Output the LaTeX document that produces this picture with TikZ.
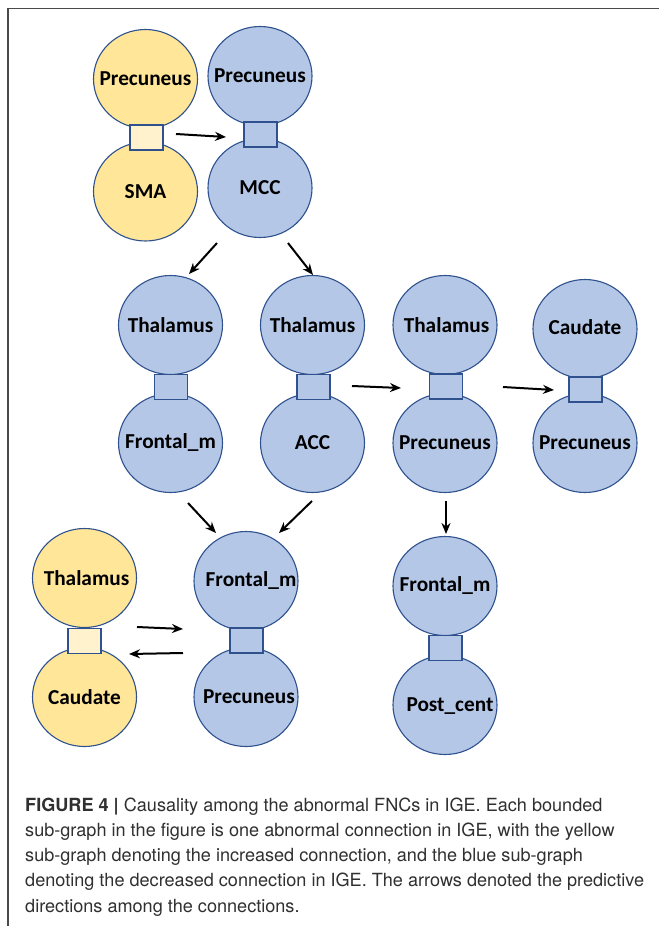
\documentclass[tikz,border=0pt]{standalone}
\usepackage{fontspec}
\setmainfont{TeX Gyre Heros}
\newfontfamily\lblfamily{Carlito}
\usetikzlibrary{shapes.geometric,arrows.meta}
\definecolor{edgec}{HTML}{2F528F}
\definecolor{bluef}{HTML}{B4C7E7}
\definecolor{yellowf}{HTML}{FFE699}
\definecolor{yellowsq}{HTML}{FFF2CC}
\definecolor{capc}{HTML}{303030}
\definecolor{framec}{HTML}{4A4A4A}
\tikzset{
  lbl/.style={inner sep=0pt, text=black,
    font=\lblfamily\bfseries\fontsize{21.3}{23}\selectfont},
  circB/.style={ellipse, draw=edgec, line width=1.1pt, fill=bluef,
    minimum width=104pt, minimum height=99pt, inner sep=0pt},
  circY/.style={circB, fill=yellowf},
  sqB/.style={rectangle, draw=edgec, line width=1.1pt, fill=bluef,
    minimum width=33pt, minimum height=25pt, inner sep=0pt},
  sqY/.style={sqB, fill=yellowsq},
  arr/.style={-{Stealth[length=11pt,width=9pt]}, line width=2pt, black},
  captxt/.style={anchor=base west, inner sep=0pt, text=capc,
    font=\fontsize{18.1}{20}\selectfont},
}
\begin{document}
\begin{tikzpicture}[x=1pt,y=-1pt]
\useasboundingbox (0,0) rectangle (659,926);
\fill[white] (0,0) rectangle (659,926);
\draw[framec, line width=1.5pt] (8,926) -- (8,8.5) -- (659,8.5);

% group 1 (yellow)
\node[circY, label={[lbl]center:Precuneus}] (g1t) at (145.5,79) {};
\node[circY, label={[lbl]center:SMA}] (g1b) at (145.5,191.5) {};
\node[sqY] (g1s) at (146.5,137.5) {};
% group 2
\node[circB, label={[lbl]center:Precuneus}] (g2t) at (260,76) {};
\node[circB, label={[lbl]center:MCC}] (g2b) at (260,188) {};
\node[sqB] (g2s) at (260.5,134.5) {};
% group 3
\node[circB, label={[lbl]center:Thalamus}] (g3t) at (170.5,325) {};
\node[circB, label={[lbl]center:Frontal\_m}] (g3b) at (170.5,443) {};
\node[sqB] (g3s) at (171,387) {};
% group 4
\node[circB, label={[lbl]center:Thalamus}] (g4t) at (312.5,325) {};
\node[circB, label={[lbl]center:ACC}] (g4b) at (312.5,443) {};
\node[sqB] (g4s) at (313.5,387) {};
% group 5
\node[circB, label={[lbl,xshift=1.5pt]center:Thalamus}] (g5t) at (445,325) {};
\node[circB, label={[lbl]center:Precuneus}] (g5b) at (445,443) {};
\node[sqB] (g5s) at (446,386.5) {};
% group 6
\node[circB, label={[lbl,yshift=2pt]center:Caudate}] (g6t) at (585,329) {};
\node[circB, label={[lbl]center:Precuneus}] (g6b) at (585,443) {};
\node[sqB] (g6s) at (585.5,389.5) {};
% group 7 (yellow)
\node[circY, label={[lbl,xshift=2pt]center:Thalamus}] (g7t) at (84.5,578) {};
\node[circY, label={[lbl]center:Caudate}] (g7b) at (84.5,697) {};
\node[sqY] (g7s) at (84.5,641) {};
% group 8
\node[circB, label={[lbl,xshift=5pt]center:Frontal\_m}] (g8t) at (246,581) {};
\node[circB, label={[lbl,xshift=3pt]center:Precuneus}] (g8b) at (246,697) {};
\node[sqB] (g8s) at (246.5,640.5) {};
% group 9
\node[circB, label={[lbl]center:Frontal\_m}] (g9t) at (445,586) {};
\node[circB, label={[lbl,xshift=5pt,yshift=-1pt]center:Post\_cent}] (g9b) at (445,705) {};
\node[sqB] (g9s) at (445.5,648) {};

% arrows
\coordinate (a1s) at (176,134);  \coordinate (a1e) at (226,137);
\coordinate (a2s) at (217,243);  \coordinate (a2e) at (189,274);
\coordinate (a3s) at (288,243);  \coordinate (a3e) at (313,275);
\coordinate (a4s) at (352,386);  \coordinate (a4e) at (401,388);
\coordinate (a5s) at (503,387);  \coordinate (a5e) at (554,390);
\coordinate (a6s) at (446,501);  \coordinate (a6e) at (446,534);
\coordinate (a7s) at (188,503);  \coordinate (a7e) at (216,533);
\coordinate (a8s) at (312,501);  \coordinate (a8e) at (279,533);
\coordinate (a9s) at (137,627);  \coordinate (a9e) at (183,629);
\coordinate (a10s) at (183,653); \coordinate (a10e) at (129,654);
\foreach \i in {1,...,10} \draw[arr] (a\i s) -- (a\i e);

% caption
\node[captxt] (cap1) at (25,811) {\textbf{FIGURE 4 |} Causality among the abnormal FNCs in IGE. Each bounded};
\node[captxt] (cap2) at (25,836.3) {sub-graph in the figure is one abnormal connection in IGE, with the yellow};
\node[captxt] (cap3) at (25,861.6) {sub-graph denoting the increased connection, and the blue sub-graph};
\node[captxt] (cap4) at (25,886.9) {denoting the decreased connection in IGE. The arrows denoted the predictive};
\node[captxt] (cap5) at (25,912.2) {directions among the connections.};
\end{tikzpicture}
\end{document}
